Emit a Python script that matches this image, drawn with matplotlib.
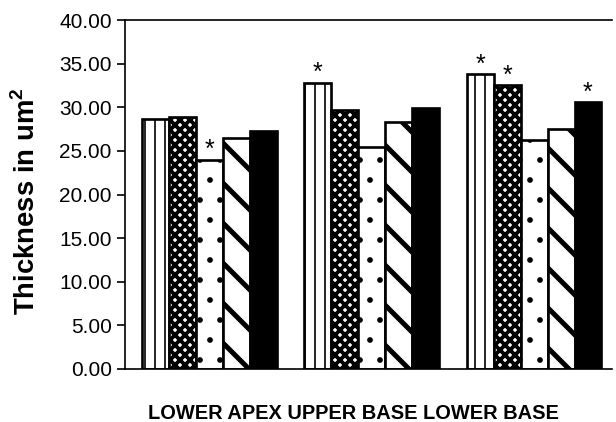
import matplotlib
matplotlib.use("Agg")
import matplotlib.pyplot as plt
import numpy as np

# regions along the x axis
regions = ["LOWER APEX", "UPPER BASE", "LOWER BASE"]

# five measurement series, one value per region
series_1 = [28.6, 32.8, 33.8]
series_2 = [28.9, 29.7, 32.5]
series_3 = [24.0, 25.4, 26.3]
series_4 = [26.5, 28.3, 27.5]
series_5 = [27.3, 29.9, 30.6]
all_series = [series_1, series_2, series_3, series_4, series_5]

# significance markers: (series index, region index)
stars = [(2, 0), (0, 1), (0, 2), (1, 2), (4, 2)]

y_ticks = [0, 5, 10, 15, 20, 25, 30, 35, 40]

plt.rcParams["font.family"] = ["Liberation Sans", "DejaVu Sans"]
plt.rcParams["mathtext.fontset"] = "custom"
plt.rcParams["mathtext.bf"] = "Liberation Sans:bold"

fig = plt.figure(figsize=(616 / 120, 422 / 120), dpi=120)
ax = fig.add_axes([125 / 616, 53 / 422, 487 / 616, 349 / 422])

hatches = ["||", "xxxx", ".", "\\", None]
hatch_lw = [1.0, 2.3, 1.0, 3.0, 1.0]
faces = ["white", "white", "white", "white", "black"]

width = 0.166
x = np.arange(len(regions))
bars = []
for i, vals in enumerate(all_series):
    pos = x + (i - 2) * width + 0.02
    with plt.rc_context({"hatch.linewidth": hatch_lw[i]}):
        b = ax.bar(pos, vals, width, color=faces[i], edgecolor="black",
                   linewidth=1.6, hatch=hatches[i], zorder=2)
        for p in b:
            if hasattr(p, "set_hatch_linewidth"):
                p.set_hatch_linewidth(hatch_lw[i])
    bars.append(b)

for s, r in stars:
    p = bars[s][r]
    ax.annotate("*", (p.get_x() + p.get_width() / 2, p.get_height()),
                xytext=(0, -1.5), textcoords="offset points",
                ha="center", va="bottom", fontsize=15)

ax.set_xlim(-0.5, 2.5)
ax.set_ylim(0, 40)
ax.set_yticks(y_ticks)
ax.set_yticklabels(["%.2f" % t for t in y_ticks], fontsize=12.5)
ax.set_xticks([])
ax.spines["right"].set_visible(False)
for side in ["left", "top", "bottom"]:
    ax.spines[side].set_linewidth(1.0)
ax.tick_params(axis="y", direction="out", length=5, width=1.0, pad=3)

ax.set_ylabel("Thickness in um$^\\mathbf{2}$", fontsize=16.5, fontweight="bold")
ax.yaxis.set_label_coords(-0.172, 0.48)
ax.set_xlabel(" ".join(regions), fontsize=12, fontweight="bold")
ax.xaxis.set_label_coords(0.47, -0.1)

fig.savefig("out.png", dpi=120)
